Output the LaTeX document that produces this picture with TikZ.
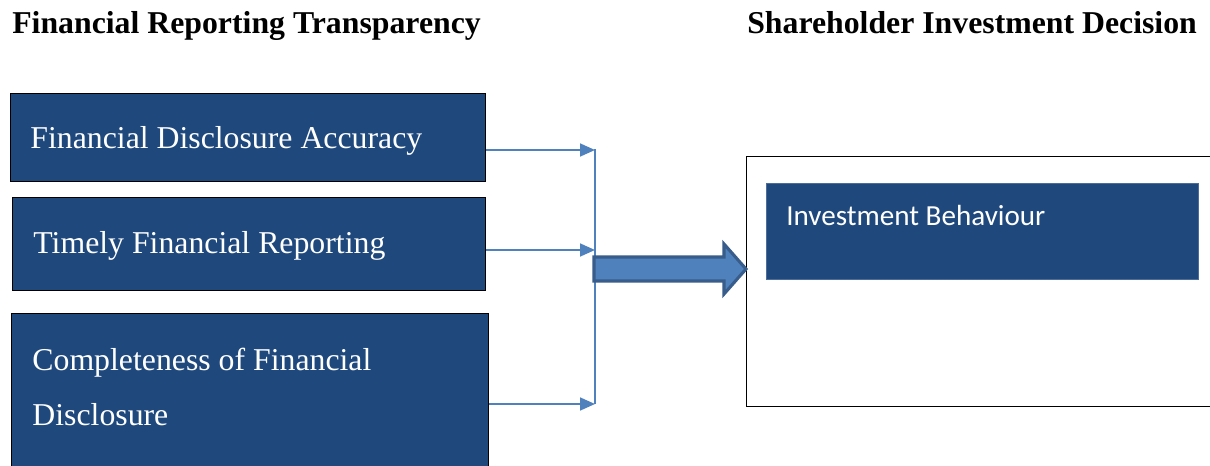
\documentclass[tikz,border=0pt]{standalone}
\usepackage{fontspec}
\setmainfont{Liberation Serif}
\newfontfamily\calibri{Carlito}
\usetikzlibrary{arrows.meta}

\definecolor{boxblue}{HTML}{1F497D}
\definecolor{linkblue}{HTML}{4F81BD}
\definecolor{rimblue}{HTML}{385D8A}

\tikzset{
  heading/.style={anchor=base west, inner sep=0pt, font=\fontsize{22.6}{27}\selectfont\bfseries},
  % normal word spacing inside the ragged boxes
  plainspace/.style={execute at begin node={\spaceskip0pt\xspaceskip0pt\relax}},
  factor/.style={draw=black, line width=0.6pt, fill=boxblue, text=white, anchor=north west,
    inner ysep=0pt, align=left, plainspace, font=\fontsize{22.6}{39}\selectfont},
  link/.style={linkblue, line width=1.5pt, -{Triangle[length=10.5pt,width=9pt]}},
}

\begin{document}
\begin{tikzpicture}[x=0.025cm, y=-0.025cm]
  \clip (0,0) rectangle (1210,466);
  \fill[white] (0,0) rectangle (1210,466);

  % headings
  \node[heading] (T1) at (12,34) {Financial Reporting Transparency};
  \node[heading] (T2) at (747,34) {Shareholder Investment Decision};

  % left column: the three factors
  \node[factor, inner xsep=0.5cm, text width=10.875cm, text height=1.375cm, text depth=0.825cm]
    (F1) at (10,93) {Financial Disclosure Accuracy};
  \node[factor, inner xsep=0.525cm, text width=10.775cm, text height=1.4cm, text depth=0.925cm]
    (F2) at (12,197) {Timely Financial Reporting};
  \node[factor, inner xsep=0.525cm, text width=10.875cm, text height=1.425cm, text depth=2.5cm]
    (F3) at (11,313) {Completeness of Financial\\Disclosure};

  % collecting bar
  \coordinate (J1) at (595,150);
  \coordinate (J2) at (595,250);
  \coordinate (J3) at (595,404);
  \draw[linkblue, line width=1.5pt] (595,149) -- (595,404);

  \draw[link] (F1.east |- J1) -- (J1);
  \draw[link] (F2.east |- J2) -- (J2);
  \draw[link] (F3.east |- J3) -- (J3);

  % right side: outcome
  \node[draw=black, line width=0.8pt, fill=white, anchor=north west, minimum width=12cm,
    minimum height=6.25cm] (D) at (746,156) {};
  \node[fill=boxblue, draw=boxblue!80!white, anchor=north west, inner xsep=0.5cm, inner ysep=0pt,
    text width=9.8cm, text height=1.05cm, text depth=1.35cm, text=white, align=left, plainspace,
    font=\calibri\fontsize{20.7}{25}\selectfont] (B) at (766,183) {Investment Behaviour};

  % block arrow into the outcome box
  \draw[rimblue, line width=2.2pt, fill=linkblue, line join=miter]
    (594,257) -- (724,257) -- (724,244) -- (746,269) -- (724,294) -- (724,281) -- (594,281) -- cycle;
\end{tikzpicture}
\end{document}
